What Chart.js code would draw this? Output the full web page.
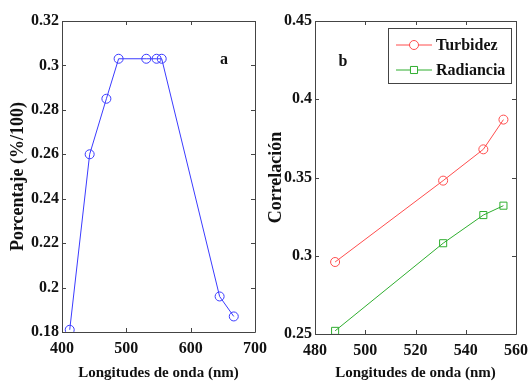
<!DOCTYPE html>
<html>
<head>
<meta charset="utf-8">
<script src="https://cdn.jsdelivr.net/npm/chart.js@4.4.0/dist/chart.umd.min.js"></script>
<style>
  html, body { margin: 0; padding: 0; background: #fff; }
  #wrap { position: relative; width: 529px; height: 384px; overflow: hidden; }
  canvas { position: absolute; top: 0; }
  #chartA { left: 0; }
  #chartB { left: 262px; }
</style>
</head>
<body>
<div id="wrap">
  <canvas id="chartA" width="280" height="384"></canvas>
  <canvas id="chartB" width="267" height="384"></canvas>
</div>
<script>
// Panel a: porcentaje por longitud de onda
const wavelengthsA = [412, 443, 469, 488, 531, 547, 555, 645, 667];
const porcentaje = [0.181, 0.26, 0.285, 0.303, 0.303, 0.303, 0.303, 0.196, 0.187];
const xTicksA = [400, 500, 600, 700];
const yTicksA = [0.18, 0.2, 0.22, 0.24, 0.26, 0.28, 0.3, 0.32];

// Panel b: correlación
const wavelengthsB = [488, 531, 547, 555];
const turbidez = [0.296, 0.348, 0.368, 0.387];
const radiancia = [0.252, 0.308, 0.326, 0.332];
const xTicksB = [480, 500, 520, 540, 560];
const yTicksB = [0.25, 0.3, 0.35, 0.4, 0.45];

const FONT = "'Liberation Serif', 'Times New Roman', serif";
const tickFont = { family: FONT, size: 16, weight: "bold" };
const xTitleFont = { family: FONT, size: 15, weight: "bold" };
const yTitleFont = { family: FONT, size: 18, weight: "bold" };

function fmt(v) {
  return String(+v.toFixed(2));
}

function toPoints(xs, ys) {
  return xs.map((x, i) => ({ x: x, y: ys[i] }));
}

// box around the plot with inward ticks on all four sides
const framePlugin = {
  id: "frame",
  afterDatasetsDraw(chart) {
    const { ctx, chartArea: a, scales } = chart;
    const x = scales.x, y = scales.y;
    const len = 4;
    ctx.save();
    ctx.strokeStyle = "#444";
    ctx.lineWidth = 1;
    ctx.beginPath();
    ctx.rect(Math.round(a.left) + 0.5, Math.round(a.top) + 0.5,
      Math.round(a.right - a.left), Math.round(a.bottom - a.top));
    x.ticks.forEach((t) => {
      const px = Math.round(x.getPixelForValue(t.value)) + 0.5;
      ctx.moveTo(px, a.bottom); ctx.lineTo(px, a.bottom - len);
      ctx.moveTo(px, a.top); ctx.lineTo(px, a.top + len);
    });
    y.ticks.forEach((t) => {
      const py = Math.round(y.getPixelForValue(t.value)) + 0.5;
      ctx.moveTo(a.left, py); ctx.lineTo(a.left + len, py);
      ctx.moveTo(a.right, py); ctx.lineTo(a.right - len, py);
    });
    ctx.stroke();
    ctx.restore();
  },
};

// panel letter inside the plot
const letterPlugin = {
  id: "letter",
  afterDraw(chart, args, opts) {
    const { ctx, chartArea: a } = chart;
    ctx.save();
    ctx.font = "bold 16px " + FONT;
    ctx.fillStyle = "#111";
    ctx.textAlign = "center";
    ctx.textBaseline = "middle";
    const px = opts.fromRight ? a.right - opts.dx : a.left + opts.dx;
    ctx.fillText(opts.text, px, a.top + opts.dy);
    ctx.restore();
  },
};

// MATLAB-like legend box with line + marker samples
const boxLegendPlugin = {
  id: "boxLegend",
  afterDraw(chart, args, opts) {
    if (!opts.show) return;
    const { ctx, chartArea: a } = chart;
    const w = 123, h = 55;
    const left = a.right - w - 5, top = a.top + 7;
    ctx.save();
    ctx.fillStyle = "#fff";
    ctx.fillRect(left, top, w, h);
    ctx.strokeStyle = "#444";
    ctx.lineWidth = 1;
    ctx.strokeRect(Math.round(left) + 0.5, Math.round(top) + 0.5, w, h);
    chart.data.datasets.forEach((ds, i) => {
      const cy = top + 17 + i * 25;
      ctx.strokeStyle = ds.borderColor;
      ctx.lineWidth = 1;
      ctx.beginPath();
      ctx.moveTo(left + 8, cy);
      ctx.lineTo(left + 44, cy);
      ctx.stroke();
      ctx.fillStyle = "#fff";
      Chart.helpers.drawPoint(ctx, {
        pointStyle: ds.pointStyle,
        radius: ds.pointRadius,
        rotation: 0,
        borderWidth: 1,
      }, left + 26, cy);
      ctx.fillStyle = "#111";
      ctx.font = "bold 16px " + FONT;
      ctx.textBaseline = "middle";
      ctx.textAlign = "left";
      ctx.fillText(ds.label, left + 48, cy + 1);
    });
    ctx.restore();
  },
};

function axisOptions(ticksArr, min, max, title, fixed, isY) {
  return {
    type: "linear",
    min: min,
    max: max,
    afterBuildTicks: (axis) => {
      axis.ticks = ticksArr.map((v) => ({ value: v }));
    },
    afterFit: (axis) => {
      if (isY) axis.width = fixed; else axis.height = fixed;
      // no extra room for overflowing end labels
      axis.paddingLeft = axis.paddingRight = 0;
      axis.paddingTop = axis.paddingBottom = 0;
    },
    grid: { display: false, drawTicks: false },
    border: { display: false },
    ticks: {
      color: "#111",
      font: tickFont,
      padding: isY ? 3 : 7,
      maxRotation: 0,
      autoSkip: false,
      callback: (v) => fmt(v),
    },
    title: {
      display: true,
      text: title,
      color: "#111",
      font: isY ? yTitleFont : xTitleFont,
      padding: { top: 4, bottom: isY ? 0 : 2 },
    },
  };
}

function baseOptions(cfg) {
  return {
    responsive: false,
    animation: false,
    layout: {
      autoPadding: false,
      padding: { left: cfg.left, top: cfg.top, right: cfg.right, bottom: 0 },
    },
    plugins: {
      legend: { display: false },
      tooltip: { enabled: false },
      letter: cfg.letter,
      boxLegend: { show: cfg.legend },
    },
    scales: {
      x: axisOptions(cfg.xTicks, cfg.xMin, cfg.xMax, "Longitudes de onda (nm)", cfg.xH, false),
      y: axisOptions(cfg.yTicks, cfg.yMin, cfg.yMax, cfg.yTitle, cfg.yW, true),
    },
  };
}

new Chart(document.getElementById("chartA"), {
  type: "line",
  data: {
    datasets: [
      {
        label: "Porcentaje",
        data: toPoints(wavelengthsA, porcentaje),
        borderColor: "#3b3bff",
        backgroundColor: "transparent",
        borderWidth: 1,
        pointStyle: "circle",
        pointRadius: 4.5,
        pointBorderWidth: 1,
        tension: 0,
      },
    ],
  },
  options: baseOptions({
    left: 4, top: 21, right: 25, xH: 52, yW: 58,
    xTicks: xTicksA, xMin: 400, xMax: 700,
    yTicks: yTicksA, yMin: 0.18, yMax: 0.32,
    yTitle: "Porcentaje (%/100)",
    letter: { text: "a", fromRight: true, dx: 31, dy: 39 },
    legend: false,
  }),
  plugins: [framePlugin, letterPlugin, boxLegendPlugin],
});

new Chart(document.getElementById("chartB"), {
  type: "line",
  data: {
    datasets: [
      {
        label: "Turbidez",
        data: toPoints(wavelengthsB, turbidez),
        borderColor: "#ff4d4d",
        backgroundColor: "transparent",
        borderWidth: 1,
        pointStyle: "circle",
        pointRadius: 4.5,
        pointBorderWidth: 1,
        tension: 0,
      },
      {
        label: "Radiancia",
        data: toPoints(wavelengthsB, radiancia),
        borderColor: "#2fae2f",
        backgroundColor: "transparent",
        borderWidth: 1,
        pointStyle: "rect",
        pointRadius: 5,
        pointBorderWidth: 1,
        tension: 0,
      },
    ],
  },
  options: baseOptions({
    left: 0, top: 21, right: 13, xH: 50, yW: 53,
    xTicks: xTicksB, xMin: 480, xMax: 560,
    yTicks: yTicksB, yMin: 0.25, yMax: 0.45,
    yTitle: "Correlación",
    letter: { text: "b", fromRight: false, dx: 28, dy: 41 },
    legend: true,
  }),
  plugins: [framePlugin, letterPlugin, boxLegendPlugin],
});
</script>
</body>
</html>
